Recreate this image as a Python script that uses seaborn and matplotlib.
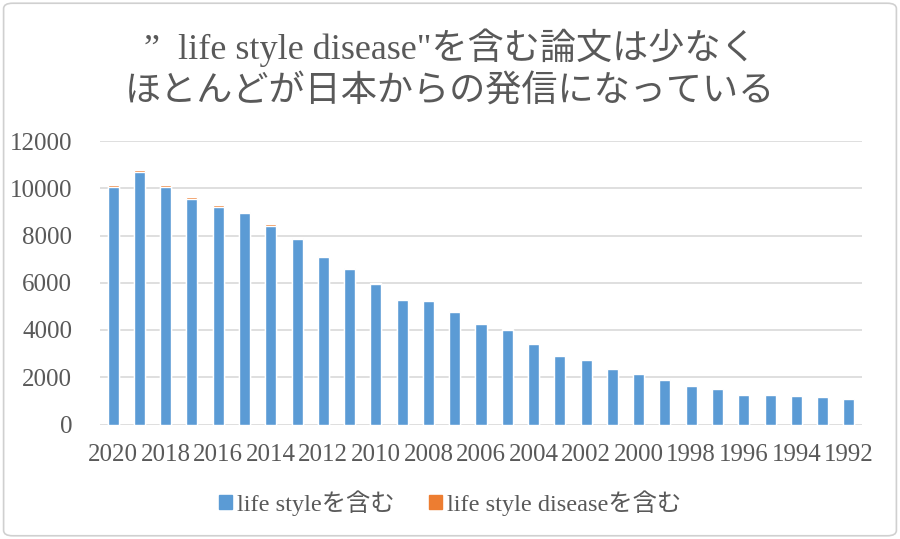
import matplotlib
matplotlib.use('Agg')
import numpy as np
import pandas as pd
import seaborn as sns
import matplotlib.pyplot as plt
from matplotlib.patches import Patch, FancyBboxPatch

sns.set_theme(style="white")
plt.rcParams['font.family'] = ['Liberation Serif', 'Noto Sans CJK JP']

years = [str(y) for y in range(2020, 1991, -1)]
life_style = [10040, 10680, 10060, 9540, 9200, 8940, 8400, 7850, 7090, 6580,
              5950, 5270, 5230, 4760, 4270, 4010, 3420, 2910, 2710, 2355,
              2140, 1900, 1620, 1510, 1250, 1235, 1220, 1165, 1080]
life_style_disease = [90, 100, 80, 80, 90, 70, 70, 40, 50, 50,
                      40, 20, 20, 40, 20, 15, 10, 10, 10, 10,
                      10, 10, 10, 10, 10, 10, 10, 10, 10]

blue = '#5b9bd5'
orange = '#ed7d31'
grey_text = '#595959'

df = pd.DataFrame({'year': years, 'ls': life_style, 'lsd': life_style_disease})
df['total'] = df['ls'] + df['lsd']

fig = plt.figure(figsize=(9, 5.39), dpi=100)
fig.patches.append(FancyBboxPatch((0.004, 0.006), 0.992, 0.988,
                                  boxstyle="round,pad=0,rounding_size=0.01",
                                  transform=fig.transFigure, fill=False,
                                  edgecolor='#d0d0d0', linewidth=1.2))
ax = fig.add_axes([100 / 900, 1 - 424.5 / 539, 762 / 900, (424.5 - 141) / 539])

sns.barplot(data=df, x='year', y='total', order=years, color=orange,
            width=0.42, saturation=1, ax=ax)
sns.barplot(data=df, x='year', y='ls', order=years, color=blue,
            width=0.42, saturation=1, ax=ax)

ax.set_ylim(0, 12000)
ax.set_xlim(-0.5, len(years) - 0.5)
ax.set_yticks(np.arange(0, 12001, 2000))
ax.yaxis.grid(True, color='#d9d9d9', linewidth=1.2)
ax.set_axisbelow(True)
for s in ax.spines.values():
    s.set_visible(False)
ax.set_xlabel('')
ax.set_ylabel('')
ax.set_xticks(range(len(years)))
ax.set_xticklabels([y if i % 2 == 0 else '' for i, y in enumerate(years)])
ax.tick_params(axis='x', length=0, labelsize=18, colors=grey_text, pad=14)
ax.tick_params(axis='y', length=0, labelsize=18, colors=grey_text, pad=20)

fig.text(0.5, 0.912, '”  life style disease"を含む論文は少なく',
         ha='center', va='center', fontsize=26, color=grey_text)
fig.text(0.5, 0.828, 'ほとんどが日本からの発信になっている',
         ha='center', va='center', fontsize=26, color=grey_text)

handles = [Patch(color=blue, label='life styleを含む'),
           Patch(color=orange, label='life style diseaseを含む')]
fig.legend(handles=handles, loc='center', bbox_to_anchor=(0.5, 0.067), ncol=2,
           frameon=False, fontsize=17.5, labelcolor=grey_text, handlelength=0.55,
           handleheight=0.55, handletextpad=0.2, columnspacing=1.4)

fig.savefig('out.png', dpi=100)
